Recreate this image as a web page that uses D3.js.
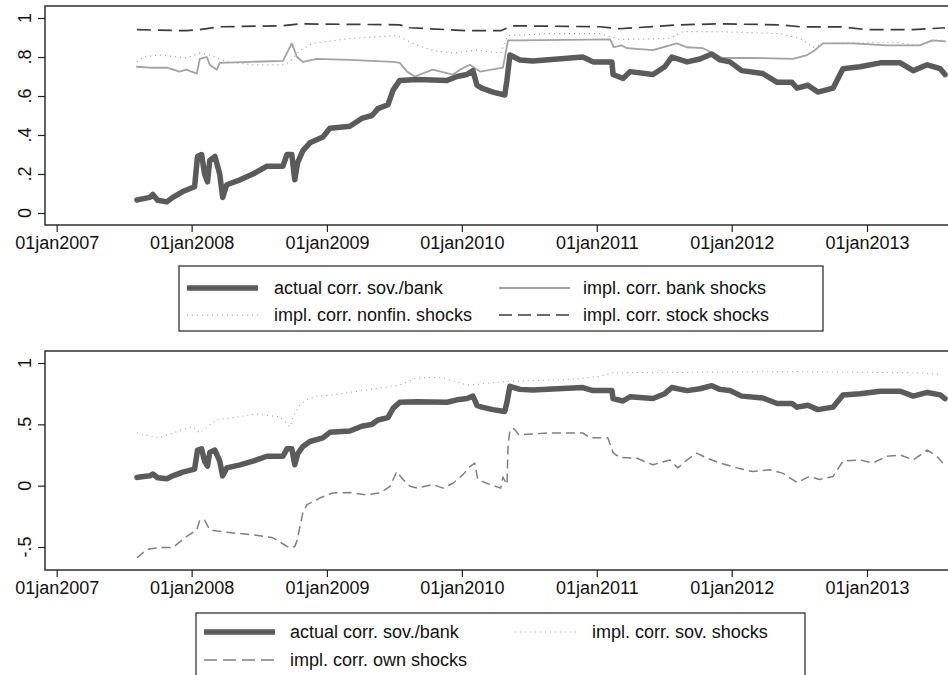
<!DOCTYPE html>
<html>
<head>
<meta charset="utf-8">
<script src="https://cdn.jsdelivr.net/npm/d3@7/dist/d3.min.js"></script>
<style>
  html, body { margin: 0; padding: 0; background: #fff; }
  svg { display: block; font-family: "Liberation Sans", Arial, sans-serif; }
</style>
</head>
<body>
<svg id="chart" width="948" height="675"></svg>
<script>
// ---------------- DATA ----------------
const xTickLabels = ["01jan2007","01jan2008","01jan2009","01jan2010","01jan2011","01jan2012","01jan2013"];
const xTickDates  = ["2007-01-01","2008-01-01","2009-01-01","2010-01-01","2011-01-01","2012-01-01","2013-01-01"];
const topYTicks = [0, 0.2, 0.4, 0.6, 0.8, 1];
const topYLabels = ["0", ".2", ".4", ".6", ".8", "1"];
const botYTicks = [-0.5, 0, 0.5, 1];
const botYLabels = ["-.5", "0", ".5", "1"];

const actualCorr = [
  ["2007-08-06",0.067],["2007-08-14",0.07],["2007-09-10",0.08],["2007-09-18",0.095],["2007-10-01",0.065],
  ["2007-10-26",0.057],["2007-11-11",0.08],["2007-12-08",0.11],["2008-01-09",0.135],["2008-01-17",0.29],
  ["2008-01-28",0.30],["2008-02-05",0.20],["2008-02-13",0.16],["2008-02-19",0.27],["2008-03-04",0.29],
  ["2008-03-17",0.20],["2008-03-25",0.08],["2008-04-05",0.145],["2008-05-11",0.17],["2008-06-15",0.20],
  ["2008-07-23",0.24],["2008-09-04",0.24],["2008-09-15",0.30],["2008-09-28",0.30],["2008-10-06",0.17],
  ["2008-10-14",0.26],["2008-10-28",0.32],["2008-11-16",0.36],["2008-12-21",0.39],["2009-01-09",0.435],
  ["2009-03-04",0.445],["2009-04-05",0.485],["2009-05-03",0.50],["2009-05-19",0.535],["2009-06-15",0.555],
  ["2009-06-29",0.63],["2009-07-17",0.68],["2009-09-02",0.685],["2009-11-22",0.68],["2009-12-19",0.70],
  ["2010-01-15",0.71],["2010-01-31",0.73],["2010-02-11",0.655],["2010-02-24",0.64],["2010-03-26",0.62],
  ["2010-04-27",0.605],["2010-05-03",0.68],["2010-05-11",0.81],["2010-06-07",0.785],["2010-07-12",0.78],
  ["2010-11-24",0.80],["2010-12-22",0.775],["2011-02-11",0.775],["2011-02-14",0.71],["2011-03-13",0.69],
  ["2011-04-01",0.725],["2011-06-02",0.71],["2011-07-04",0.75],["2011-07-23",0.80],["2011-09-02",0.775],
  ["2011-10-07",0.79],["2011-11-08",0.815],["2011-11-30",0.785],["2011-12-27",0.775],["2012-01-28",0.73],
  ["2012-03-25",0.715],["2012-05-03",0.67],["2012-06-12",0.67],["2012-06-26",0.64],["2012-07-25",0.655],
  ["2012-08-21",0.62],["2012-10-01",0.64],["2012-10-28",0.74],["2012-12-13",0.75],["2013-02-06",0.77],
  ["2013-04-01",0.77],["2013-05-06",0.73],["2013-06-13",0.76],["2013-07-18",0.74],["2013-07-31",0.71]
];

const bankShocks = [
  ["2007-08-06",0.75],["2007-09-10",0.745],["2007-10-26",0.745],["2007-11-29",0.725],["2007-12-18",0.735],
  ["2008-01-15",0.715],["2008-01-23",0.79],["2008-02-11",0.80],["2008-02-19",0.76],["2008-03-09",0.735],
  ["2008-03-17",0.77],["2008-06-07",0.775],["2008-09-04",0.78],["2008-09-28",0.87],["2008-10-12",0.80],
  ["2008-10-28",0.775],["2008-12-05",0.79],["2009-03-04",0.785],["2009-06-29",0.775],["2009-07-17",0.77],
  ["2009-08-06",0.725],["2009-08-27",0.70],["2009-10-14",0.735],["2009-12-08",0.71],["2009-12-27",0.735],
  ["2010-01-23",0.76],["2010-02-19",0.725],["2010-04-22",0.745],["2010-05-06",0.885],["2010-06-07",0.885],
  ["2011-02-06",0.89],["2011-02-16",0.85],["2011-03-08",0.86],["2011-03-24",0.845],["2011-06-02",0.835],
  ["2011-08-05",0.87],["2011-09-02",0.85],["2011-10-15",0.845],["2011-12-08",0.795],["2012-02-27",0.795],
  ["2012-06-15",0.79],["2012-07-23",0.81],["2012-08-13",0.835],["2012-09-04",0.87],["2012-11-24",0.87],
  ["2013-02-24",0.86],["2013-05-24",0.86],["2013-06-26",0.885],["2013-07-31",0.88]
];

const nonfinShocks = [
  ["2007-08-06",0.775],["2007-08-22",0.80],["2007-10-06",0.81],["2007-12-18",0.795],["2008-01-23",0.82],
  ["2008-02-19",0.81],["2008-04-05",0.775],["2008-06-15",0.76],["2008-09-04",0.76],["2008-09-23",0.775],
  ["2008-10-20",0.835],["2008-11-24",0.87],["2009-03-04",0.895],["2009-07-09",0.91],["2009-09-02",0.86],
  ["2009-10-14",0.835],["2009-12-08",0.82],["2010-02-11",0.835],["2010-04-16",0.82],["2010-05-06",0.91],
  ["2010-08-27",0.92],["2011-01-09",0.92],["2011-03-04",0.89],["2011-07-17",0.895],["2011-08-22",0.93],
  ["2011-11-30",0.93],["2012-05-11",0.92],["2012-07-04",0.895],["2012-08-08",0.85],["2012-09-04",0.87],
  ["2013-03-13",0.875],["2013-05-24",0.86],["2013-06-29",0.885],["2013-07-31",0.885]
];

const stockShocks = [
  ["2007-08-06",0.94],["2007-12-18",0.935],["2008-01-23",0.94],["2008-03-17",0.955],["2008-09-04",0.96],
  ["2008-10-20",0.97],["2009-07-17",0.965],["2009-08-14",0.95],["2010-01-15",0.935],["2010-04-16",0.935],
  ["2010-05-19",0.96],["2011-01-09",0.955],["2011-03-04",0.945],["2011-08-14",0.965],["2011-11-30",0.97],
  ["2012-05-11",0.965],["2012-07-04",0.955],["2012-10-20",0.955],["2013-01-01",0.94],["2013-05-06",0.94],
  ["2013-07-31",0.95]
];

const sovShocks = [
  ["2007-08-06",0.43],["2007-09-02",0.41],["2007-10-06",0.39],["2007-11-11",0.43],["2008-01-04",0.48],
  ["2008-01-23",0.43],["2008-03-09",0.54],["2008-04-22",0.555],["2008-06-26",0.585],["2008-08-27",0.56],
  ["2008-09-23",0.48],["2008-10-01",0.56],["2008-10-20",0.66],["2008-11-08",0.70],["2008-12-05",0.73],
  ["2009-01-17",0.74],["2009-07-17",0.82],["2009-09-02",0.88],["2009-11-11",0.88],["2010-01-15",0.82],
  ["2010-05-03",0.85],["2010-10-12",0.865],["2011-01-09",0.89],["2011-02-14",0.92],["2012-05-29",0.93],
  ["2013-05-24",0.92],["2013-07-18",0.905]
];

const ownShocks = [
  ["2007-08-06",-0.59],["2007-09-02",-0.52],["2007-10-06",-0.505],["2007-11-11",-0.505],["2007-12-18",-0.415],
  ["2008-01-15",-0.36],["2008-01-23",-0.28],["2008-02-05",-0.28],["2008-02-19",-0.36],["2008-03-09",-0.37],
  ["2008-04-22",-0.385],["2008-06-15",-0.40],["2008-08-08",-0.425],["2008-09-23",-0.51],["2008-10-06",-0.495],
  ["2008-10-12",-0.45],["2008-10-28",-0.22],["2008-11-08",-0.155],["2008-12-05",-0.115],["2008-12-13",-0.10],
  ["2009-01-17",-0.06],["2009-03-04",-0.055],["2009-04-18",-0.075],["2009-05-24",-0.06],["2009-06-21",-0.005],
  ["2009-07-09",0.115],["2009-07-26",0.05],["2009-08-14",-0.005],["2009-09-02",-0.02],["2009-10-14",0.01],
  ["2009-11-11",-0.02],["2009-12-08",0.02],["2010-01-04",0.09],["2010-01-23",0.155],["2010-02-05",0.185],
  ["2010-02-13",0.05],["2010-03-09",0.02],["2010-04-16",-0.02],["2010-04-22",0.07],["2010-05-03",0.01],
  ["2010-05-06",0.32],["2010-05-11",0.455],["2010-05-22",0.465],["2010-06-04",0.415],["2010-08-27",0.43],
  ["2010-11-24",0.43],["2010-12-13",0.39],["2011-01-31",0.39],["2011-02-14",0.27],["2011-03-04",0.23],
  ["2011-04-18",0.225],["2011-06-02",0.17],["2011-07-17",0.21],["2011-08-08",0.145],["2011-09-02",0.21],
  ["2011-09-28",0.265],["2011-10-26",0.225],["2011-11-30",0.185],["2012-01-15",0.145],["2012-02-27",0.115],
  ["2012-04-13",0.13],["2012-05-19",0.10],["2012-06-26",0.025],["2012-07-29",0.075],["2012-08-26",0.05],
  ["2012-10-01",0.075],["2012-10-28",0.2],["2012-12-13",0.21],["2013-01-17",0.185],["2013-02-24",0.24],
  ["2013-04-01",0.25],["2013-05-06",0.21],["2013-06-13",0.29],["2013-07-09",0.24],["2013-07-25",0.185]
];

const topLegend = ["actual corr. sov./bank","impl. corr. bank shocks","impl. corr. nonfin. shocks","impl. corr. stock shocks"];
const botLegend = ["actual corr. sov./bank","impl. corr. sov. shocks","impl. corr. own shocks"];

// ---------------- STYLES ----------------
const styles = {
  actual: {stroke:"#5b5b5b", width:5.5, dash:null},
  bank:   {stroke:"#a3a3a3", width:1.8, dash:null},
  nonfin: {stroke:"#9a9a9a", width:1.2, dash:"1,4"},
  stock:  {stroke:"#3c3c3c", width:1.7, dash:"14,7"},
  sov:    {stroke:"#aaaaaa", width:1.2, dash:"1,4"},
  own:    {stroke:"#808080", width:1.5, dash:"9,5"}
};

const parse = d3.timeParse("%Y-%m-%d");
const svg = d3.select("#chart");
const FONT = 18;

const x = d3.scaleTime()
  .domain([parse("2007-01-01"), parse("2013-01-01")])
  .range([56.7, 867]);

function panel(cfg) {
  const g = svg.append("g");
  const y = d3.scaleLinear().domain(cfg.yDomain).range(cfg.yRange);
  const fx0 = 45, fx1 = 965;
  const clipId = "clip" + cfg.id;
  svg.append("clipPath").attr("id", clipId)
    .append("rect").attr("x", fx0).attr("y", cfg.top).attr("width", fx1 - fx0).attr("height", cfg.bottom - cfg.top);

  // series
  const line = d3.line().x(d => x(parse(d[0]))).y(d => y(d[1])).curve(d3.curveLinear);
  cfg.series.forEach(s => {
    const st = styles[s.style];
    g.append("path").datum(s.data)
      .attr("clip-path", `url(#${clipId})`)
      .attr("d", line)
      .attr("fill", "none")
      .attr("stroke", st.stroke)
      .attr("stroke-width", st.width)
      .attr("stroke-linejoin", "round")
      .attr("stroke-linecap", st.dash ? "butt" : "round")
      .attr("stroke-dasharray", st.dash);
  });

  // frame
  g.append("rect").attr("x", fx0).attr("y", cfg.top).attr("width", fx1 - fx0).attr("height", cfg.bottom - cfg.top)
    .attr("fill", "none").attr("stroke", "#222").attr("stroke-width", 1.4);

  // y axis (ticks via d3 axis, labels rotated)
  const yAxis = d3.axisLeft(y).tickValues(cfg.yTicks).tickSize(7).tickFormat(() => "");
  const ya = g.append("g").attr("transform", `translate(${fx0},0)`).call(yAxis);
  ya.select(".domain").remove();
  ya.selectAll(".tick line").attr("stroke", "#222").attr("stroke-width", 1.2);
  ya.selectAll(".tick text").remove();
  g.selectAll(".ylab").data(cfg.yTicks).enter().append("text")
    .attr("transform", d => `translate(25,${y(d)}) rotate(-90)`)
    .attr("text-anchor", "middle").attr("dy", "0.35em")
    .attr("font-size", FONT).attr("fill", "#111")
    .text((d, i) => cfg.yLabels[i]);

  // x axis
  const xAxis = d3.axisBottom(x).tickValues(xTickDates.map(parse)).tickSize(7)
    .tickFormat((d, i) => xTickLabels[i]);
  const xa = g.append("g").attr("transform", `translate(0,${cfg.bottom})`).call(xAxis);
  xa.select(".domain").remove();
  xa.selectAll(".tick line").attr("stroke", "#222").attr("stroke-width", 1.2);
  xa.selectAll(".tick text").attr("font-size", FONT).attr("fill", "#111").attr("y", 11).attr("dy", "0.71em");

  // legend
  const L = cfg.legend;
  g.append("rect").attr("x", L.x0).attr("y", L.y0).attr("width", L.x1 - L.x0).attr("height", L.y1 - L.y0)
    .attr("fill", "#fff").attr("stroke", "#222").attr("stroke-width", 1.2);
  L.items.forEach(it => {
    const st = styles[it.style];
    g.append("line").attr("x1", it.lx).attr("x2", it.lx + it.lw).attr("y1", it.y).attr("y2", it.y)
      .attr("stroke", st.stroke).attr("stroke-width", st.width)
      .attr("stroke-dasharray", it.style === "stock" || it.style === "own" ? "13,6" : st.dash);
    g.append("text").attr("x", it.tx).attr("y", it.y).attr("dy", "0.35em")
      .attr("font-size", FONT).attr("fill", "#111").text(it.label);
  });
}

panel({
  id: "top", top: 6, bottom: 225,
  yDomain: [0, 1], yRange: [213, 18], yTicks: topYTicks, yLabels: topYLabels,
  series: [
    {data: stockShocks, style: "stock"},
    {data: nonfinShocks, style: "nonfin"},
    {data: bankShocks, style: "bank"},
    {data: actualCorr, style: "actual"}
  ],
  legend: {x0: 179, x1: 823, y0: 266, y1: 331, items: [
    {label: topLegend[0], style: "actual", lx: 187, lw: 71, tx: 274, y: 288},
    {label: topLegend[1], style: "bank",   lx: 499, lw: 71, tx: 583, y: 288},
    {label: topLegend[2], style: "nonfin", lx: 187, lw: 71, tx: 274, y: 315},
    {label: topLegend[3], style: "stock",  lx: 499, lw: 71, tx: 583, y: 315}
  ]}
});

panel({
  id: "bot", top: 351, bottom: 570,
  yDomain: [-0.5, 1], yRange: [547, 363], yTicks: botYTicks, yLabels: botYLabels,
  series: [
    {data: sovShocks, style: "sov"},
    {data: ownShocks, style: "own"},
    {data: actualCorr, style: "actual"}
  ],
  legend: {x0: 196, x1: 805, y0: 613, y1: 690, items: [
    {label: botLegend[0], style: "actual", lx: 204, lw: 71, tx: 290, y: 632},
    {label: botLegend[1], style: "sov",    lx: 515, lw: 63, tx: 592, y: 632},
    {label: botLegend[2], style: "own",    lx: 204, lw: 71, tx: 290, y: 660}
  ]}
});
</script>
</body>
</html>
